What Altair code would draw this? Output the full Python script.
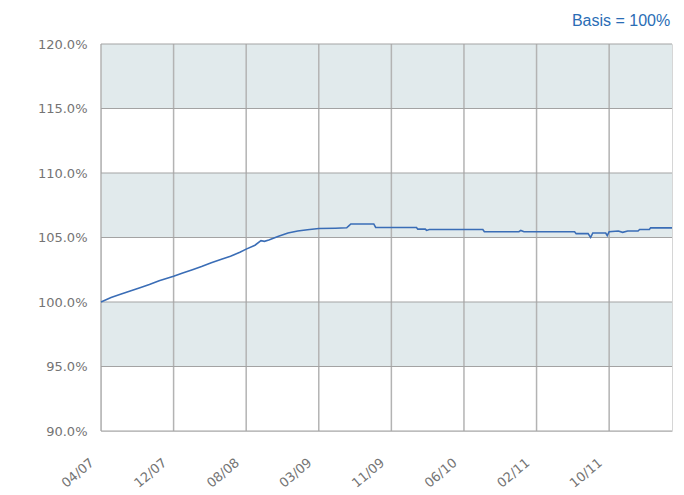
import altair as alt
import pandas as pd

# ---- data ----
dates = [
    "2007-04-30", "2007-06-01", "2007-07-01", "2007-08-01", "2007-09-01", "2007-10-01",
    "2007-11-01", "2007-12-17", "2008-01-15", "2008-02-15", "2008-03-15", "2008-04-15",
    "2008-05-15", "2008-06-15", "2008-07-15", "2008-08-04", "2008-09-01", "2008-09-20",
    "2008-10-01", "2008-10-15", "2008-11-15", "2008-12-15", "2009-01-15", "2009-02-15",
    "2009-03-23", "2009-05-15", "2009-06-20", "2009-06-24", "2009-07-03", "2009-09-14",
    "2009-09-20", "2009-11-09", "2010-01-28", "2010-02-01", "2010-02-25", "2010-03-01",
    "2010-03-10", "2010-06-28", "2010-08-27", "2010-09-01", "2010-12-20", "2010-12-26",
    "2011-01-05", "2011-06-15", "2011-06-20", "2011-07-28", "2011-08-05", "2011-08-12",
    "2011-09-01", "2011-09-22", "2011-09-27", "2011-10-03", "2011-11-01", "2011-11-15",
    "2011-12-01", "2012-01-03", "2012-01-08", "2012-02-08", "2012-02-12", "2012-04-20",
]
values = [
    100.0, 100.35, 100.6, 100.85, 101.1, 101.35,
    101.65, 102.0, 102.25, 102.5, 102.75, 103.05,
    103.3, 103.55, 103.85, 104.1, 104.4, 104.75,
    104.7, 104.8, 105.1, 105.35, 105.5, 105.6,
    105.7, 105.72, 105.75, 105.85, 106.05, 106.05,
    105.78, 105.78, 105.78, 105.65, 105.65, 105.55,
    105.62, 105.62, 105.62, 105.45, 105.45, 105.55,
    105.45, 105.45, 105.3, 105.3, 105.0, 105.35,
    105.35, 105.35, 105.15, 105.45, 105.5, 105.4,
    105.5, 105.5, 105.62, 105.62, 105.75, 105.75,
]

x_tick_dates = ["2007-04-30", "2007-12-17", "2008-08-04", "2009-03-23",
                "2009-11-09", "2010-06-28", "2011-02-14", "2011-10-03"]
x_domain = ["2007-04-30", "2012-04-20"]
y_ticks = [90, 95, 100, 105, 110, 115, 120]
band_lo = [95, 105, 115]
band_hi = [100, 110, 120]

line_df = pd.DataFrame({"date": dates, "value": values})
xgrid_df = pd.DataFrame({"date": x_tick_dates})
ygrid_df = pd.DataFrame({"value": y_ticks})
band_df = pd.DataFrame({"lo": band_lo, "hi": band_hi})


def dt(s):
    y, m, d = (int(p) for p in s.split("-"))
    return alt.DateTime(year=y, month=m, date=d, utc=True)


x_scale = alt.Scale(type="utc", domain=[dt(s) for s in x_domain])
y_scale = alt.Scale(domain=[90, 120], nice=False, zero=False)

label_font = "DejaVu Sans"
label_color = "#747474"

x_axis = alt.Axis(
    values=[dt(s) for s in x_tick_dates],
    labelExpr="utcFormat(datum.value, '%m/%y')",
    labelAngle=320, labelAlign="right", labelBaseline="top",
    labelPadding=25, labelOffset=-13, labelFlush=False, labelOverlap=False,
    labelFont=label_font, labelFontSize=13, labelColor=label_color,
    grid=False, ticks=False, domain=False, title=None,
)
y_axis = alt.Axis(
    values=y_ticks,
    labelExpr="format(datum.value, '.1f') + '%'",
    labelPadding=14, labelFont=label_font, labelFontSize=13, labelColor=label_color,
    grid=False, ticks=False, domain=False, title=None,
)

bands = alt.Chart(band_df).mark_rect(color="#e1eaec").encode(
    y=alt.Y("lo:Q", scale=y_scale, axis=y_axis),
    y2="hi:Q",
)
vgrid = alt.Chart(xgrid_df).mark_rule(color="#b3b3b3", strokeWidth=1.5).encode(
    x=alt.X("date:T", scale=x_scale, axis=x_axis),
)
hgrid = alt.Chart(ygrid_df).mark_rule(color="#a3a3a3", strokeWidth=1.2).encode(
    y=alt.Y("value:Q", scale=y_scale, axis=y_axis),
)
line = alt.Chart(line_df).mark_line(color="#3a6db6", strokeWidth=1.6).encode(
    x=alt.X("date:T", scale=x_scale, axis=x_axis),
    y=alt.Y("value:Q", scale=y_scale, axis=y_axis),
)

chart = alt.layer(bands, vgrid, hgrid, line).properties(
    width=571, height=387,
    autosize=alt.AutoSizeParams(type="none"),
    padding={"left": 93, "top": 36, "right": 4, "bottom": 62},
    title=alt.TitleParams(
        "Basis = 100%", anchor="end", fontSize=16, font="Liberation Sans",
        fontWeight="normal", color="#2a6db5", offset=9, dx=-5,
    ),
).configure_view(stroke="#d6d6d6", strokeWidth=1)

chart.save("out.html", embed_options={"renderer": "svg", "actions": False})
